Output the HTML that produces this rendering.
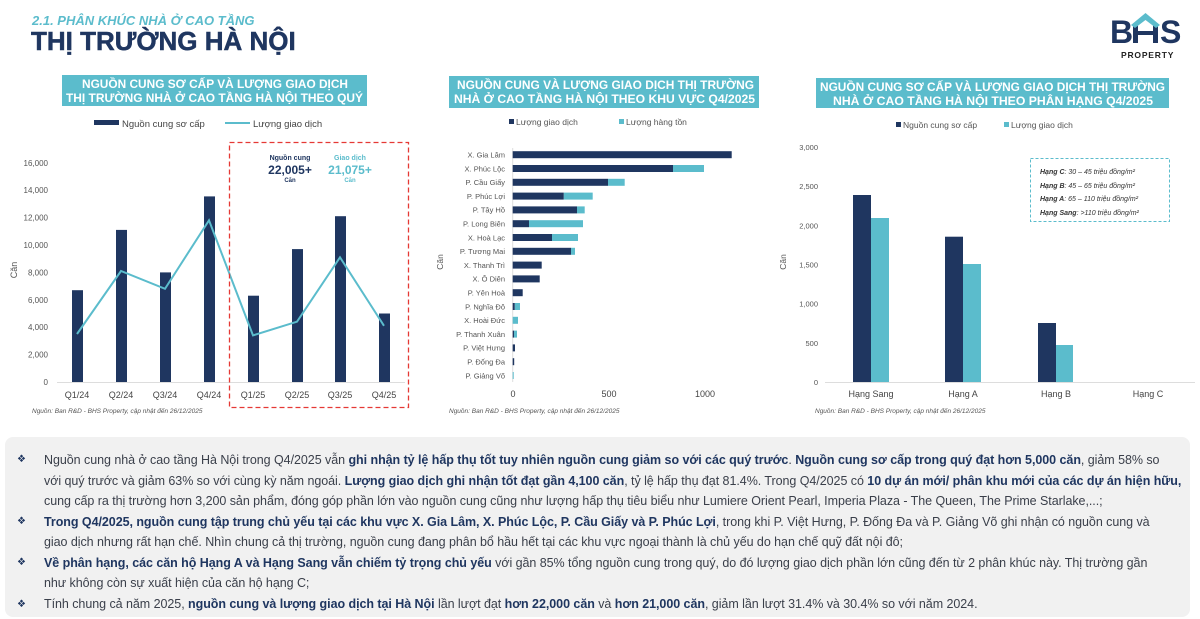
<!DOCTYPE html>
<html><head><meta charset="utf-8"><style>
body{margin:0;width:1200px;height:619px;overflow:hidden;background:#fff;font-family:"Liberation Sans",sans-serif;position:relative}
.tb{position:absolute;left:5px;top:437px;width:1185px;height:180px;background:#f1f1f1;border-radius:8px}
.ln{position:absolute;left:44px;font-size:12.5px;color:#3a3f4a;white-space:nowrap;letter-spacing:-0.05px}
.ln b{color:#1f3660}
.bl{position:absolute;left:17px;font-size:10px;color:#1f3660}
</style></head><body>
<svg width="1200" height="437" style="position:absolute;left:0;top:0" font-family="Liberation Sans, sans-serif">
<text x="32" y="25" font-size="13" font-weight="bold" font-style="italic" fill="#5bbccc">2.1. PHÂN KHÚC NHÀ Ở CAO TẦNG</text>
<text x="31" y="50" font-size="26" font-weight="bold" fill="#1f3660" stroke="#1f3660" stroke-width="0.5">THỊ TRƯỜNG HÀ NỘI</text>
<text x="1110" y="43" font-size="32" font-weight="bold" fill="#1f3660">B</text>
<text x="1160" y="43" font-size="32" font-weight="bold" fill="#1f3660">S</text>
<rect x="1133" y="24" width="5" height="19" fill="#1f3660"/>
<rect x="1153" y="24" width="5" height="19" fill="#1f3660"/>
<rect x="1133" y="31" width="25" height="4" fill="#1f3660"/>
<path d="M1131 25 L1145.5 13 L1160 25 L1156 28 L1145.5 20 L1135 28Z" fill="#5bbccc"/>
<text x="1121" y="58" font-size="8.5" font-weight="bold" fill="#222" letter-spacing="0.8">PROPERTY</text>

<!-- chart1 -->
<rect x="62" y="75" width="305" height="31" fill="#5bbccc"/>
<text x="82" y="88" font-size="11.5" font-weight="bold" fill="#fff" textLength="266" lengthAdjust="spacingAndGlyphs">NGUỒN CUNG SƠ CẤP VÀ LƯỢNG GIAO DỊCH</text>
<text x="66" y="102" font-size="11.5" font-weight="bold" fill="#fff" textLength="297" lengthAdjust="spacingAndGlyphs">THỊ TRƯỜNG NHÀ Ở CAO TẦNG HÀ NỘI THEO QUÝ</text>
<rect x="94" y="120" width="25" height="5" fill="#1f3660"/>
<text x="122" y="127" font-size="9.5" fill="#444">Nguồn cung sơ cấp</text>
<line x1="225" y1="123" x2="250" y2="123" stroke="#5bbccc" stroke-width="2"/>
<text x="253" y="127" font-size="9.5" fill="#444">Lượng giao dịch</text>
<g font-size="8" fill="#555" text-anchor="end">
<text x="48" y="385">0</text><text x="48" y="357.6">2,000</text><text x="48" y="330.2">4,000</text><text x="48" y="302.8">6,000</text><text x="48" y="275.4">8,000</text><text x="48" y="248">10,000</text><text x="48" y="220.6">12,000</text><text x="48" y="193.2">14,000</text><text x="48" y="165.8">16,000</text></g>
<text x="0" y="0" font-size="9" fill="#555" transform="translate(17,270) rotate(-90)" text-anchor="middle">Căn</text>
<line x1="57" y1="382.5" x2="405" y2="382.5" stroke="#ddd"/>
<g fill="#1f3660">
<rect x="72" y="290.2" width="11" height="91.8"/><rect x="116" y="229.9" width="11" height="152.1"/><rect x="160" y="272.4" width="11" height="109.6"/><rect x="204" y="196.4" width="11" height="185.6"/><rect x="248" y="295.7" width="11" height="86.3"/><rect x="292" y="249.1" width="11" height="132.9"/><rect x="335" y="216.2" width="11" height="165.8"/><rect x="379" y="313.5" width="11" height="68.5"/></g>
<polyline points="77,334 121,271 165,288.8 209,220.3 253,335.4 297,321.7 340,257.3 384,325.8" fill="none" stroke="#5bbccc" stroke-width="2"/>
<g font-size="9" fill="#444" text-anchor="middle"><text x="77" y="398">Q1/24</text><text x="121" y="398">Q2/24</text><text x="165" y="398">Q3/24</text><text x="209" y="398">Q4/24</text><text x="253" y="398">Q1/25</text><text x="297" y="398">Q2/25</text><text x="340" y="398">Q3/25</text><text x="384" y="398">Q4/25</text></g>
<rect x="229.5" y="142.5" width="179" height="265" fill="none" stroke="#e53935" stroke-width="1.3" stroke-dasharray="5,3"/>
<text x="290" y="160" font-size="7" font-weight="bold" fill="#1f3660" text-anchor="middle">Nguồn cung</text>
<text x="290" y="174" font-size="12" font-weight="bold" fill="#1f3660" text-anchor="middle">22,005+</text>
<text x="290" y="182" font-size="6" font-weight="bold" fill="#1f3660" text-anchor="middle">Căn</text>
<text x="350" y="160" font-size="7" font-weight="bold" fill="#5bbccc" text-anchor="middle">Giao dịch</text>
<text x="350" y="174" font-size="12" font-weight="bold" fill="#5bbccc" text-anchor="middle">21,075+</text>
<text x="350" y="182" font-size="6" font-weight="bold" fill="#5bbccc" text-anchor="middle">Căn</text>
<text x="32" y="413" font-size="6.5" font-style="italic" fill="#555">Nguồn: Ban R&amp;D - BHS Property, cập nhật đến 26/12/2025</text>

<!-- chart2 -->
<rect x="449" y="76" width="310" height="32" fill="#5bbccc"/>
<text x="457" y="89" font-size="11.5" font-weight="bold" fill="#fff" textLength="297" lengthAdjust="spacingAndGlyphs">NGUỒN CUNG VÀ LƯỢNG GIAO DỊCH THỊ TRƯỜNG</text>
<text x="454" y="103" font-size="11.5" font-weight="bold" fill="#fff" textLength="301" lengthAdjust="spacingAndGlyphs">NHÀ Ở CAO TẦNG HÀ NỘI THEO KHU VỰC Q4/2025</text>
<rect x="509" y="119" width="5" height="5" fill="#1f3660"/><text x="516" y="125" font-size="8.5" fill="#555">Lượng giao dịch</text>
<rect x="619" y="119" width="5" height="5" fill="#5bbccc"/><text x="626" y="125" font-size="8.5" fill="#555">Lượng hàng tồn</text>
<text font-size="8.5" fill="#555" transform="translate(443,262) rotate(-90)" text-anchor="middle">Căn</text>
<line x1="512.7" y1="148" x2="512.7" y2="382" stroke="#ddd"/>
<g font-size="7.5" fill="#555" text-anchor="end">
<text x="505" y="157.5">X. Gia Lâm</text><text x="505" y="171.3">X. Phúc Lộc</text><text x="505" y="185.1">P. Cầu Giấy</text><text x="505" y="198.9">P. Phúc Lợi</text><text x="505" y="212.7">P. Tây Hồ</text><text x="505" y="226.5">P. Long Biên</text><text x="505" y="240.3">X. Hoà Lạc</text><text x="505" y="254.1">P. Tương Mai</text><text x="505" y="267.9">X. Thanh Trì</text><text x="505" y="281.7">X. Ô Diên</text><text x="505" y="295.5">P. Yên Hoà</text><text x="505" y="309.3">P. Nghĩa Đô</text><text x="505" y="323.1">X. Hoài Đức</text><text x="505" y="336.9">P. Thanh Xuân</text><text x="505" y="350.7">P. Việt Hưng</text><text x="505" y="364.5">P. Đống Đa</text><text x="505" y="378.3">P. Giảng Võ</text></g>
<g fill="#5bbccc">
<rect x="673" y="165" width="31" height="7"/><rect x="608" y="178.8" width="16.7" height="7"/><rect x="563.7" y="192.6" width="29" height="7"/><rect x="577" y="206.4" width="7.7" height="7"/><rect x="529" y="220.2" width="54" height="7"/><rect x="552" y="234" width="26" height="7"/><rect x="571" y="247.8" width="4" height="7"/><rect x="514.7" y="303" width="5.3" height="7"/><rect x="512.7" y="316.8" width="5.3" height="7"/><rect x="514" y="330.6" width="3" height="7"/><rect x="512.7" y="372" width="1" height="7"/></g>
<g fill="#1f3660">
<rect x="512.7" y="151.2" width="219" height="7"/><rect x="512.7" y="165" width="160.3" height="7"/><rect x="512.7" y="178.8" width="95.3" height="7"/><rect x="512.7" y="192.6" width="51" height="7"/><rect x="512.7" y="206.4" width="64.3" height="7"/><rect x="512.7" y="220.2" width="16.3" height="7"/><rect x="512.7" y="234" width="39.3" height="7"/><rect x="512.7" y="247.8" width="58.3" height="7"/><rect x="512.7" y="261.6" width="29" height="7"/><rect x="512.7" y="275.4" width="27" height="7"/><rect x="512.7" y="289.2" width="10" height="7"/><rect x="512.7" y="303" width="2" height="7"/><rect x="512.7" y="330.6" width="1.3" height="7"/><rect x="512.7" y="344.4" width="2.3" height="7"/><rect x="512.7" y="358.2" width="1.5" height="7"/></g>
<g font-size="9" fill="#444" text-anchor="middle"><text x="513" y="397">0</text><text x="609" y="397">500</text><text x="705" y="397">1000</text></g>
<text x="449" y="413" font-size="6.5" font-style="italic" fill="#555">Nguồn: Ban R&amp;D - BHS Property, cập nhật đến 26/12/2025</text>

<!-- chart3 -->
<rect x="816" y="78" width="353" height="30" fill="#5bbccc"/>
<text x="820" y="91" font-size="11.5" font-weight="bold" fill="#fff" textLength="345" lengthAdjust="spacingAndGlyphs">NGUỒN CUNG SƠ CẤP VÀ LƯỢNG GIAO DỊCH THỊ TRƯỜNG</text>
<text x="833" y="105" font-size="11.5" font-weight="bold" fill="#fff" textLength="320" lengthAdjust="spacingAndGlyphs">NHÀ Ở CAO TẦNG HÀ NỘI THEO PHÂN HẠNG Q4/2025</text>
<rect x="896" y="122" width="5" height="5" fill="#1f3660"/><text x="903" y="128" font-size="8.5" fill="#555">Nguồn cung sơ cấp</text>
<rect x="1004" y="122" width="5" height="5" fill="#5bbccc"/><text x="1011" y="128" font-size="8.5" fill="#555">Lượng giao dịch</text>
<text font-size="8.5" fill="#555" transform="translate(786,262) rotate(-90)" text-anchor="middle">Căn</text>
<g font-size="7.5" fill="#555" text-anchor="end"><text x="818" y="385">0</text><text x="818" y="345.8">500</text><text x="818" y="306.7">1,000</text><text x="818" y="267.5">1,500</text><text x="818" y="228.3">2,000</text><text x="818" y="189.2">2,500</text><text x="818" y="150">3,000</text></g>
<line x1="825" y1="382.5" x2="1195" y2="382.5" stroke="#ddd"/>
<g fill="#1f3660"><rect x="853" y="195" width="18" height="187"/><rect x="945" y="236.7" width="18" height="145.3"/><rect x="1038" y="323" width="18" height="59"/></g>
<g fill="#5bbccc"><rect x="871" y="218" width="18" height="164"/><rect x="963" y="264" width="18" height="118"/><rect x="1056" y="345" width="17" height="37"/></g>
<g font-size="9" fill="#444" text-anchor="middle"><text x="871" y="397">Hạng Sang</text><text x="963" y="397">Hạng A</text><text x="1056" y="397">Hạng B</text><text x="1148" y="397">Hạng C</text></g>
<rect x="1030.5" y="158.5" width="139" height="63" fill="none" stroke="#5bbccc" stroke-dasharray="3,2"/>
<g font-size="7" font-style="italic" fill="#333"><text x="1040" y="174"><tspan font-weight="bold">Hạng C</tspan>: 30 – 45 triệu đồng/m²</text><text x="1040" y="188"><tspan font-weight="bold">Hạng B</tspan>: 45 – 65 triệu đồng/m²</text><text x="1040" y="201"><tspan font-weight="bold">Hạng A</tspan>:  65 – 110 triệu đồng/m²</text><text x="1040" y="215"><tspan font-weight="bold">Hạng Sang</tspan>: &gt;110 triệu đồng/m²</text></g>
<text x="815" y="413" font-size="6.5" font-style="italic" fill="#555">Nguồn: Ban R&amp;D - BHS Property, cập nhật đến 26/12/2025</text>
</svg>
<div class="tb"></div>
<div class="bl" style="top:454px">❖</div><div class="bl" style="top:516px">❖</div><div class="bl" style="top:557px">❖</div><div class="bl" style="top:599px">❖</div>
<div class="ln" style="top:453px">Nguồn cung nhà ở cao tầng Hà Nội trong Q4/2025 vẫn <b>ghi nhận tỷ lệ hấp thụ tốt tuy nhiên nguồn cung giảm so với các quý trước</b>. <b>Nguồn cung sơ cấp trong quý đạt hơn 5,000 căn</b>, giảm 58% so</div>
<div class="ln" style="top:474px">với quý trước và giảm 63% so với cùng kỳ năm ngoái. <b>Lượng giao dịch ghi nhận tốt đạt gần 4,100 căn</b>, tỷ lệ hấp thụ đạt 81.4%. Trong Q4/2025 có <b>10 dự án mới/ phân khu mới của các dự án hiện hữu,</b></div>
<div class="ln" style="top:494px">cung cấp ra thị trường hơn 3,200 sản phẩm, đóng góp phần lớn vào nguồn cung cũng như lượng hấp thụ tiêu biểu như Lumiere Orient Pearl, Imperia Plaza  - The Queen, The Prime Starlake,...;</div>
<div class="ln" style="top:515px"><b>Trong Q4/2025, nguồn cung tập trung chủ yếu tại các khu vực X. Gia Lâm, X. Phúc Lộc, P. Cầu Giấy và P. Phúc Lợi</b>, trong khi P. Việt Hưng, P. Đống Đa và P. Giảng Võ ghi nhận có nguồn cung và</div>
<div class="ln" style="top:535px">giao dịch nhưng rất hạn chế. Nhìn chung cả thị trường, nguồn cung đang phân bổ hầu hết tại các khu vực ngoại thành là chủ yếu do hạn chế quỹ đất nội đô;</div>
<div class="ln" style="top:556px"><b>Về phân hạng, các căn hộ Hạng A và Hạng Sang vẫn chiếm tỷ trọng chủ yếu</b> với gần 85% tổng nguồn cung trong quý, do đó lượng giao dịch phần lớn cũng đến từ 2 phân khúc này. Thị trường gần</div>
<div class="ln" style="top:576px">như không còn sự xuất hiện của căn hộ hạng C;</div>
<div class="ln" style="top:597px">Tính chung cả năm 2025, <b>nguồn cung và lượng giao dịch tại Hà Nội</b> lần lượt đạt <b>hơn 22,000 căn</b> và <b>hơn 21,000 căn</b>, giảm lần lượt 31.4% và 30.4% so với năm 2024.</div>
</body></html>
